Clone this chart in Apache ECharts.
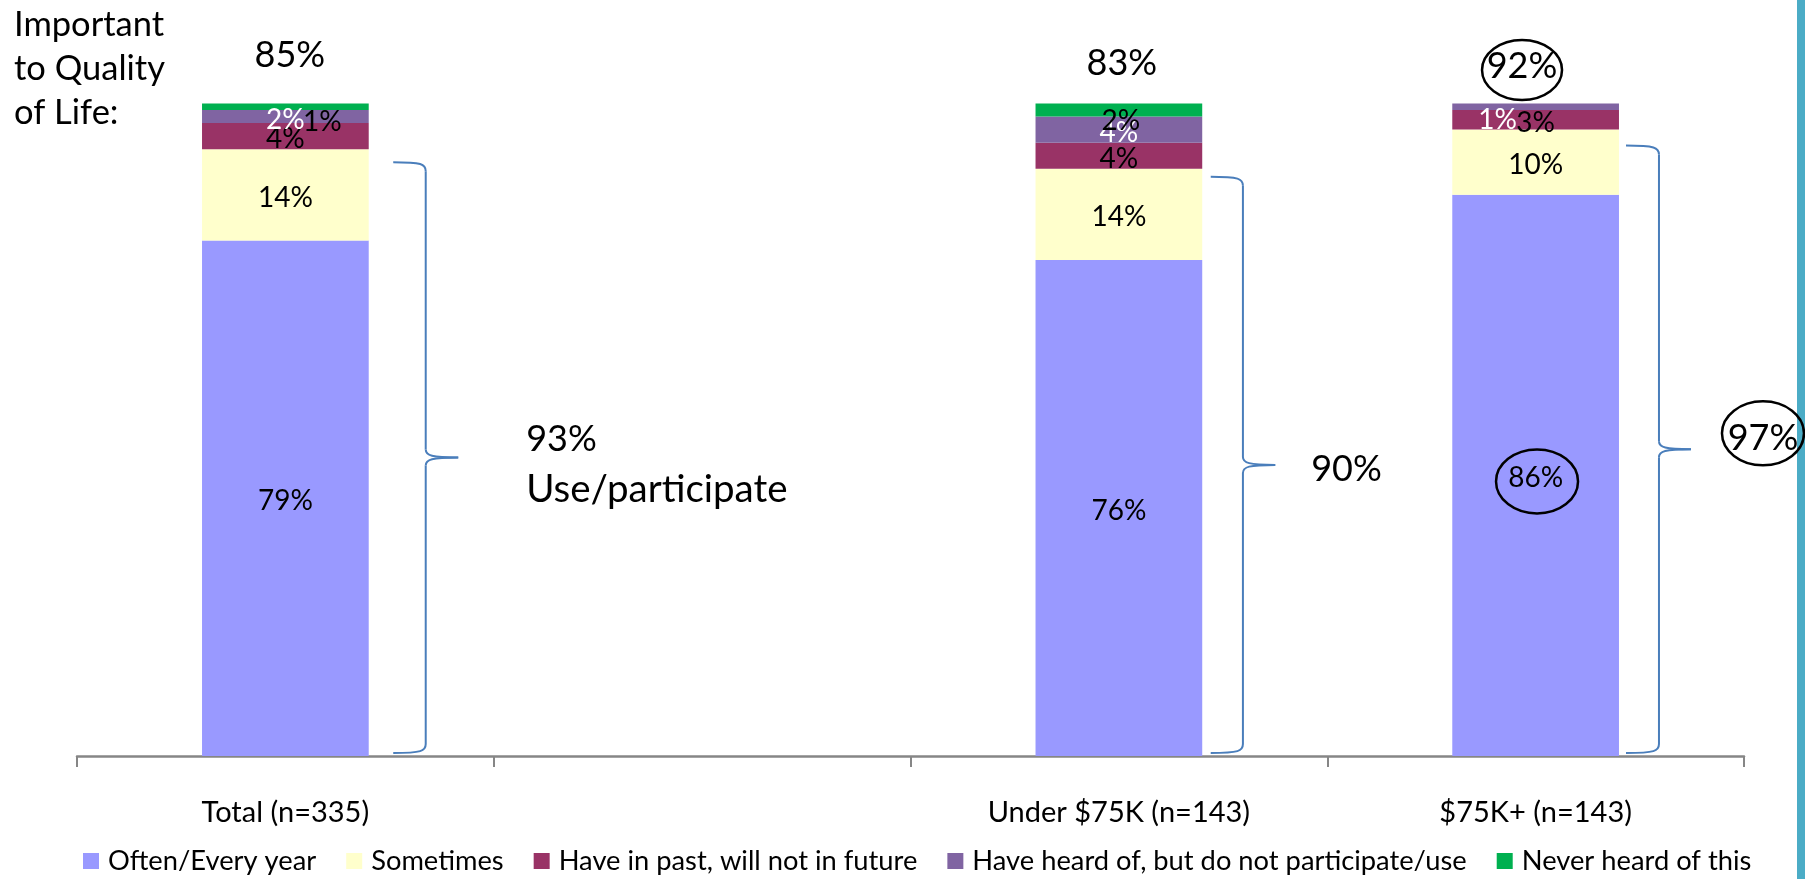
<!DOCTYPE html>
<html>
<head>
<meta charset="utf-8">
<script src="https://cdn.jsdelivr.net/npm/echarts@6/dist/echarts.min.js"></script>
<style>
html,body{margin:0;padding:0;background:#fff;}
#c{width:1805px;height:879px;}
</style>
</head>
<body>
<div id="c"></div>
<script>
// ---------- DATA ----------
const categories = ['Total (n=335)', '', 'Under $75K (n=143)', '$75K+ (n=143)'];
const seriesNames = ['Often/Every year', 'Sometimes', 'Have in past, will not in future',
  'Have heard of, but do not participate/use', 'Never heard of this'];
const often = [79, null, 76, 86];
const sometimes = [14, null, 14, 10];
const pastNotFuture = [4, null, 4, 3];
const heardNotUse = [2, null, 4, 1];
const neverHeard = [1, null, 2, 0];
const importantQoL = [85, null, 83, 92];
const useParticipate = [93, null, 90, 97];
const qolTitleLines = ['Important', 'to Quality', 'of Life:'];
const useCaption = 'Use/participate';

// ---------- STYLE / LAYOUT ----------
const FONT = 'Lato';
const colors = ['#9999FF', '#FFFFCC', '#993366', '#8064A2', '#00B050'];
const labelColors = ['#000', '#000', '#000', '#fff', '#000'];
const seriesValues = [often, sometimes, pastNotFuture, heardNotUse, neverHeard];
// manual label nudges [seriesIndex-categoryIndex] -> [dx, dy]
const labelNudge = {
  '4-0': [37, 12], '4-2': [2, 8], '3-3': [-38, 10]
};

const chart = echarts.init(document.getElementById('c'), null, {renderer: 'canvas'});

const series = seriesValues.map((vals, si) => ({
  name: seriesNames[si],
  type: 'bar',
  stack: 'all',
  barWidth: '40%',
  itemStyle: {color: colors[si]},
  label: {
    show: true,
    position: 'inside',
    fontFamily: FONT,
    fontSize: 28,
    color: labelColors[si],
    formatter: p => (p.value ? p.value + '%' : '')
  },
  data: vals.map((v, ci) => {
    const n = labelNudge[si + '-' + ci] || [0, 0];
    return {value: v, label: {offset: [n[0], n[1] + 3]}};
  })
}));

chart.setOption({
  animation: false,
  backgroundColor: '#fff',
  grid: {left: 77, right: 61, top: 103.5, bottom: 123},
  xAxis: {
    type: 'category',
    data: categories,
    axisLine: {lineStyle: {color: '#868686', width: 2.5}},
    axisTick: {show: true, length: 11, lineStyle: {color: '#868686', width: 2}},
    axisLabel: {interval: 0, color: '#000', fontFamily: FONT, fontSize: 29, margin: 42, lineHeight: 29}
  },
  yAxis: {type: 'value', min: 0, max: 100, show: false},
  legend: {
    left: 83, top: 847,
    itemWidth: 16, itemHeight: 16, itemGap: 30,
    icon: 'rect',
    padding: 0,
    textStyle: {fontFamily: FONT, fontSize: 27.3, color: '#000', lineHeight: 28, padding: [0, 0, 0, 4]},
    data: seriesNames
  },
  series: series
});

// ---------- ANNOTATIONS ----------
function px(cat, val) { return chart.convertToPixel({xAxisIndex: 0, yAxisIndex: 0}, [cat, val]); }
const band = px(1, 0)[0] - px(0, 0)[0];
const halfBar = band * 0.4 / 2;
const BRACE = '#4A7EBB';
const g = [];

function text(str, x, y, size, align, extra) {
  g.push(Object.assign({
    type: 'text', x: x, y: y, z: 100,
    style: {text: str, fontFamily: FONT, fontSize: size, fill: '#000', align: align || 'center', verticalAlign: 'middle'}
  }, extra || {}));
}
function ellipse(cx, cy, rx, ry) {
  g.push({type: 'ellipse', z: 99, shape: {cx: cx, cy: cy, rx: rx, ry: ry},
    style: {fill: 'none', stroke: '#000', lineWidth: 2.5}});
}
function bez(x1, y1, x2, y2, c1x, c1y, c2x, c2y) {
  g.push({type: 'bezierCurve', z: 90,
    shape: {x1: x1, y1: y1, x2: x2, y2: y2, cpx1: c1x, cpy1: c1y, cpx2: c2x, cpy2: c2y},
    style: {fill: 'none', stroke: BRACE, lineWidth: 2}});
}
function line(x1, y1, x2, y2) {
  g.push({type: 'line', z: 90, shape: {x1: x1, y1: y1, x2: x2, y2: y2},
    style: {stroke: BRACE, lineWidth: 2}});
}

// title at top-left
qolTitleLines.forEach((s, i) => text(s, 14, 25 + i * 44, 34.5, 'left'));

// importance values above bars
const qolLayout = {0: [4.5, -48.5, false], 2: [3, -40.5, false], 3: [-13.6, -37.5, true]};
importantQoL.forEach((v, ci) => {
  if (v == null) return;
  const top = px(ci, 100);
  const L = qolLayout[ci];
  text(v + '%', top[0] + L[0], top[1] + L[1], 36, 'center');
  if (L[2]) ellipse(top[0] + L[0], top[1] + L[1] + 4, 40, 30);
});

// braces
const braceLayout = {
  0: {x0: 24.5, x1: 57, x2: 89.5, topAdj: 13},
  2: {x0: 8.5, x1: 40.7, x2: 73, topAdj: 8},
  3: {x0: 7, x1: 40, x2: 72, topAdj: 16}
};
const braceTips = {};
Object.keys(braceLayout).forEach(k => {
  const ci = +k, B = braceLayout[k];
  const right = px(ci, 0)[0] + halfBar;
  const yTop = px(ci, often[ci] + sometimes[ci])[1] + B.topAdj;
  const yBot = px(ci, 0)[1] - 3;
  const yMid = (yTop + yBot) / 2;
  const X0 = right + B.x0, X1 = right + B.x1, X2 = right + B.x2;
  bez(X0, yTop, X1, yTop + 9, X1 - 4, yTop, X1, yTop + 2);
  line(X1, yTop + 9, X1, yMid - 8);
  bez(X1, yMid - 8, X2, yMid, X1, yMid - 2, X1 + 6, yMid);
  bez(X2, yMid, X1, yMid + 8, X1 + 6, yMid, X1, yMid + 2);
  line(X1, yMid + 8, X1, yBot - 9);
  bez(X1, yBot - 9, X0, yBot, X1, yBot - 2, X1 - 4, yBot);
  braceTips[ci] = [X2, yMid];
});

// brace captions
text(useParticipate[0] + '%', braceTips[0][0] + 68, braceTips[0][1] - 18.5, 36, 'left');
text(useCaption, braceTips[0][0] + 68, braceTips[0][1] + 31.5, 38.5, 'left');
text(useParticipate[2] + '%', braceTips[2][0] + 36, braceTips[2][1] + 4.5, 36, 'left');
text(useParticipate[3] + '%', braceTips[3][0] + 72, braceTips[3][1] - 10.5, 36, 'center');
ellipse(braceTips[3][0] + 72, braceTips[3][1] - 16, 41, 32);

// circle around highlighted 86% label
const c86 = px(3, often[3] / 2);
ellipse(c86[0] + 1.4, c86[1] + 6, 41, 32);

// teal stripe on right edge
g.push({type: 'rect', z: 1, shape: {x: 1797, y: 0, width: 8, height: 879}, style: {fill: '#4BACC6'}});

chart.setOption({graphic: {elements: g}});
</script>
</body>
</html>
